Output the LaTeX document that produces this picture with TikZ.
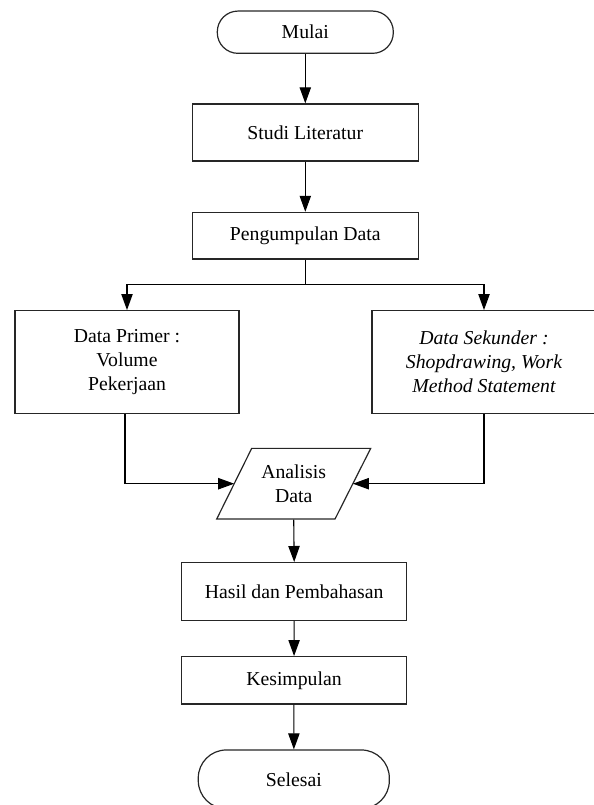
\documentclass[tikz,border=0pt]{standalone}
\usepackage{fontspec}
\setmainfont{Liberation Serif}
\usetikzlibrary{arrows.meta,calc}
\begin{document}
\begin{tikzpicture}[x=0.75pt,y=-0.75pt,
  font=\fontsize{14.8pt}{18pt}\selectfont,
  every node/.style={inner sep=0pt,align=center},
  box/.style={draw=black!85,line width=0.9pt,rectangle},
  term/.style={draw=black!85,line width=0.9pt,rectangle,rounded corners=#1},
  conn/.style={draw=black,line width=0.8pt},
  arr/.style={conn,-{Triangle[length=12pt,width=8.5pt]}}
]
\useasboundingbox (0,0) rectangle (593,805);
\node[term=15.5pt,minimum width=132pt,minimum height=31.7pt] (mulai) at (305.3,32.2) {Mulai};
\node[box,minimum width=169.5pt,minimum height=42.8pt] (studi) at (305.3,132.5) {Studi Literatur};
\node[box,minimum width=169.5pt,minimum height=35pt] (peng) at (305.3,235.7) {Pengumpulan Data};
\node[box,minimum width=168pt,minimum height=77.3pt] (prim) at (127,362.2) {Data Primer :\\Volume\\Pekerjaan};
\node[box,minimum width=168pt,minimum height=77.3pt] (sek) at (484,362.2) {\itshape Data Sekunder :\\\itshape Shopdrawing, Work\\\itshape Method Statement};
\node[minimum width=89pt,minimum height=53.3pt] (ana) at (293.7,483.7) {Analisis\\Data};
\draw[draw=black!85,line width=0.9pt] ($(ana)+(-77,35.35)$) -- ($(ana)+(-42,-35.35)$) -- ($(ana)+(77,-35.35)$) -- ($(ana)+(41.3,35.35)$) -- cycle;
\coordinate (anaL) at ($(ana)+(-59.5,0)$);
\coordinate (anaR) at ($(ana)+(59.2,0)$);
\node[box,minimum width=168.8pt,minimum height=43.5pt] (hasil) at (294.2,591.6) {Hasil dan Pembahasan};
\node[box,minimum width=168.4pt,minimum height=35.5pt] (kes) at (294,680.3) {Kesimpulan};
\node[term=21pt,minimum width=143.3pt,minimum height=44pt] (sel) at (293.8,779.3) {Selesai};
\coordinate (split) at ($(peng.south)+(0,25.3)$);
\draw[arr] (mulai) -- (studi);
\draw[arr] (studi) -- (peng);
\draw[conn] (peng.south) -- (split);
\draw[arr] (split) -| (prim.north);
\draw[arr] (split) -| (sek.north);
\draw[arr] ($(prim.south)+(-2,0)$) |- (anaL);
\draw[arr] (sek.south) |- (anaR);
\draw[arr] (ana.south) -- (hasil.north);
\draw[arr] (hasil) -- (kes);
\draw[arr] (kes) -- (sel);
\end{tikzpicture}
\end{document}
